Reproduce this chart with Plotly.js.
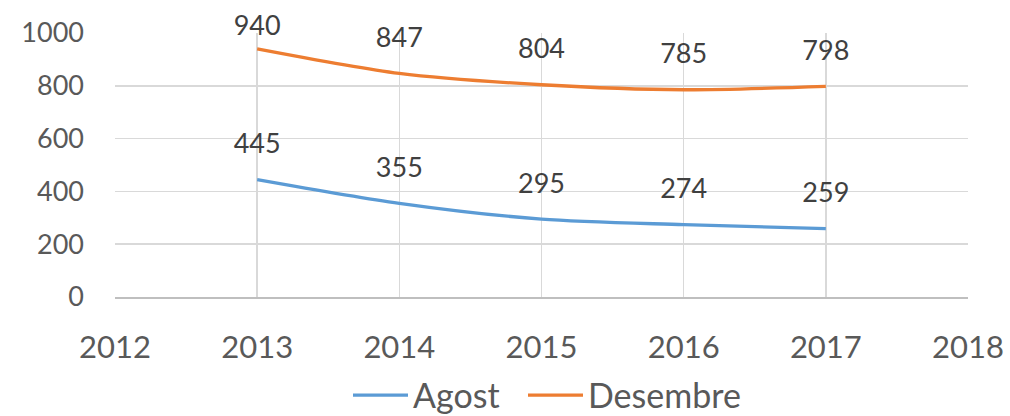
<!DOCTYPE html>
<html>
<head>
<meta charset="utf-8">
<script src="https://cdn.plot.ly/plotly-3.0.1.min.js"></script>
<style>html,body{margin:0;padding:0;background:#fff;}#chart{width:1010px;height:416px;}</style>
</head>
<body>
<div id="chart"></div>
<script>
const years = [2013, 2014, 2015, 2016, 2017];
const agost = [445, 355, 295, 274, 259];
const desembre = [940, 847, 804, 785, 798];
const seriesNames = ['Agost', 'Desembre'];

const labelFont = {family: 'Lato, sans-serif', size: 27, color: '#404040'};
function makeTrace(name, ys, color, sizes) {
  return {x: years, y: ys, name: name, mode: 'lines+markers+text', type: 'scatter',
    line: {color: color, width: 3.3, shape: 'spline', smoothing: 0.8},
    marker: {size: sizes, opacity: 0, color: color},
    text: ys.map(String), textposition: 'top center', textfont: labelFont, cliponaxis: false};
}
const traces = [
  makeTrace(seriesNames[0], agost, '#5B9BD5', 30),
  makeTrace(seriesNames[1], desembre, '#ED7D31', [9, 30, 30, 30, 30])
];

const layout = {
  width: 1010, height: 416,
  margin: {l: 115, r: 42, t: 33, b: 119, autoexpand: false},
  paper_bgcolor: '#fff', plot_bgcolor: '#fff',
  showlegend: true,
  legend: {orientation: 'h', x: 0.5, xanchor: 'center', y: -0.30, yanchor: 'top',
           bgcolor: 'rgba(0,0,0,0)',
           font: {family: 'Lato, sans-serif', size: 34, color: '#595959'}, itemwidth: 40},
  xaxis: {range: [2012, 2018], tickmode: 'linear', tick0: 2012, dtick: 1, automargin: false,
          showgrid: true, gridcolor: '#D9D9D9', gridwidth: 1.5,
          showline: true, linecolor: '#BFBFBF', linewidth: 1.5, zeroline: false,
          ticks: '', ticklabelstandoff: 22,
          tickfont: {family: 'Lato, sans-serif', size: 31, color: '#595959'}},
  yaxis: {range: [0, 1000], tickmode: 'linear', tick0: 0, dtick: 200, automargin: false,
          showgrid: true, gridcolor: '#D9D9D9', gridwidth: 1.5, zeroline: false,
          showline: false, ticks: '', ticklabelstandoff: 30,
          tickfont: {family: 'Lato, sans-serif', size: 27, color: '#595959'}}
};

// legend fine placement (text left edge, baseline) in page pixels
const legendTextLeft = [413, 588];
const legendBaseline = 408;

Plotly.newPlot('chart', traces, layout, {displayModeBar: false, staticPlot: true}).then(function (gd) {
  gd.querySelectorAll('.legend [clip-path]').forEach(function (el) { el.removeAttribute('clip-path'); });
  const legend = gd.querySelector('.legend');
  if (legend) legend.removeAttribute('clip-path');
  gd.querySelectorAll('.legend .traces').forEach(function (item, i) {
    item.querySelectorAll('.legendpoints').forEach(function (p) { p.style.display = 'none'; });
    const text = item.querySelector('text.legendtext');
    const r = text.getBoundingClientRect();
    const dx = legendTextLeft[i] - r.left;
    const baseNow = r.top + 34 * 0.987;
    const dy = legendBaseline - baseNow;
    const tr = item.getAttribute('transform') || 'translate(0,0)';
    const m = tr.match(/translate\(\s*([-\d.e]+)[ ,]+([-\d.e]+)\s*\)/);
    const x0 = m ? parseFloat(m[1]) : 0, y0 = m ? parseFloat(m[2]) : 0;
    item.setAttribute('transform', 'translate(' + (x0 + dx) + ',' + (y0 + dy) + ')');
    const tx = parseFloat(text.getAttribute('x')) || 40;
    item.querySelectorAll('.legendlines path').forEach(function (p) {
      p.setAttribute('d', 'M' + (tx - 60) + ',0h55');
    });
  });
});
</script>
</body>
</html>
